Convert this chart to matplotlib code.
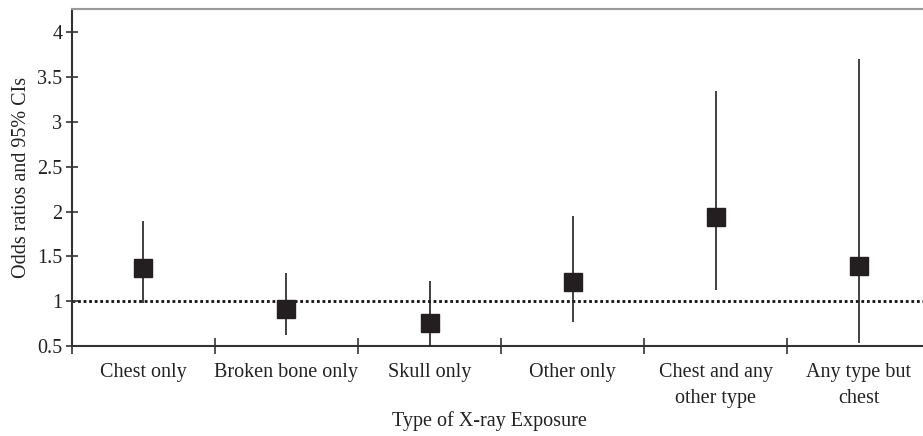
import numpy as np
import matplotlib.pyplot as plt

plt.rcParams['font.family'] = ['Liberation Serif', 'DejaVu Serif']

categories = ["Chest only", "Broken bone only", "Skull only", "Other only",
              "Chest and any\nother type", "Any type but\nchest"]
odds = [1.37, 0.91, 0.76, 1.21, 1.94, 1.39]
ci_low = [0.98, 0.62, 0.50, 0.77, 1.12, 0.53]
ci_high = [1.89, 1.31, 1.22, 1.95, 3.34, 3.70]
yticks = [0.5, 1, 1.5, 2, 2.5, 3, 3.5, 4]
ytick_labels = ["0.5", "1", "1.5", "2", "2.5", "3", "3.5", "4"]

ink = "#231f20"
fs = 14.5

fig = plt.figure(figsize=(9.23, 4.36), dpi=100)
ax = fig.add_axes([0.078, 0.2064, 0.9296, 0.773])

x = np.arange(len(categories)) + 0.5
odds = np.array(odds)
yerr = [odds - np.array(ci_low), np.array(ci_high) - odds]

# reference line at OR = 1
ax.axhline(1, color="#111", linestyle=(0, (1, 1)), linewidth=2.0, zorder=1)

ax.errorbar(x, odds, yerr=yerr, fmt="s", color=ink, ecolor=ink,
            elinewidth=1.2, capsize=0, markersize=13, zorder=3)

ax.set_xlim(0, len(categories))
ax.set_ylim(0.5, 4.26)

ax.set_xticks(np.arange(len(categories) + 1))
ax.set_xticklabels([])
ax.set_xticks(x, minor=True)
ax.set_xticklabels(categories, minor=True, fontsize=fs, color="#222",
                   linespacing=1.5)
ax.tick_params(axis="x", which="minor", length=0, pad=12)
ax.tick_params(axis="x", which="major", direction="inout", length=12,
               width=1.2, color="#333")

ax.set_yticks(yticks)
ax.set_yticklabels(ytick_labels, fontsize=fs, color="#222")
ax.tick_params(axis="y", direction="inout", length=8, width=1.2,
               color="#333", pad=3)

for side in ["left", "bottom"]:
    ax.spines[side].set_color("#333")
    ax.spines[side].set_linewidth(1.5)
ax.spines["top"].set_color("#999")
ax.spines["top"].set_linewidth(1.5)
ax.spines["right"].set_visible(False)

ax.set_xlabel("Type of X-ray Exposure", fontsize=fs, color="#222")
ax.xaxis.set_label_coords(0.487, -0.2226)
ax.xaxis.label.set_verticalalignment("center")
ax.set_ylabel("Odds ratios and 95% CIs", fontsize=fs, color="#222", labelpad=4)

fig.savefig("out.png", dpi=100)
